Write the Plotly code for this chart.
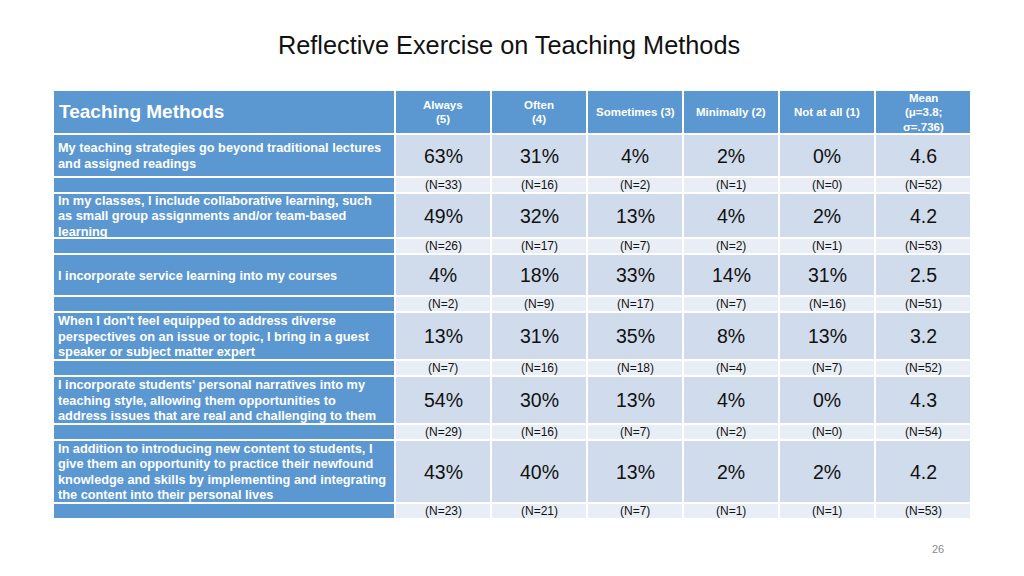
import plotly.graph_objects as go

# ---------------- data ----------------
title_text = "Reflective Exercise on Teaching Methods"
first_header = "Teaching Methods"
col_headers = ["Always<br>(5)", "Often<br>(4)", "Sometimes (3)", "Minimally (2)",
               "Not at all (1)", "Mean<br>(\u03bc=3.8;<br>\u03c3=.736)"]
methods = [
    "My teaching strategies go beyond traditional lectures<br>and assigned readings",
    "In my classes, I include collaborative learning, such<br>as small group assignments and/or team-based<br>learning",
    "I incorporate service learning into my courses",
    "When I don't feel equipped to address diverse<br>perspectives on an issue or topic, I bring in a guest<br>speaker or subject matter expert",
    "I incorporate students' personal narratives into my<br>teaching style, allowing them opportunities to<br>address issues that are real and challenging to them",
    "In addition to introducing new content to students, I<br>give them an opportunity to practice their newfound<br>knowledge and skills by implementing and integrating<br>the content into their personal lives",
]
always_pct = [63, 49, 4, 13, 54, 43]
often_pct = [31, 32, 18, 31, 30, 40]
sometimes_pct = [4, 13, 33, 35, 13, 13]
minimally_pct = [2, 4, 14, 8, 4, 2]
notatall_pct = [0, 2, 31, 13, 0, 2]
mean_score = [4.6, 4.2, 2.5, 3.2, 4.3, 4.2]
always_n = [33, 26, 2, 7, 29, 23]
often_n = [16, 17, 9, 16, 16, 21]
sometimes_n = [2, 7, 17, 18, 7, 7]
minimally_n = [1, 2, 7, 4, 2, 1]
notatall_n = [0, 1, 16, 7, 0, 1]
total_n = [52, 53, 51, 52, 54, 53]
page_number = "26"

# ---------------- layout geometry ----------------
col_edges = [53, 395, 491, 587, 683, 779, 875, 971]
header_edges = (90, 134)
# (pct row top, N row top, N row bottom) for each method
row_edges = [(134, 177, 193), (193, 238, 254), (254, 296, 312),
             (312, 360, 376), (376, 424, 440), (440, 503, 519)]
PAGE_OFFSET = 8  # default body margin of the html page

BLUE = "#5B97D0"
PCT_FILL = "#D0DCEB"
N_FILL = "#E9EEF6"
FONT = "Arial, Liberation Sans, sans-serif"

fig = go.Figure()
shapes = []
annotations = []


def cell(x0, x1, y0, y1, color):
    shapes.append(dict(type="rect", xref="x", yref="y", x0=x0 + 1, x1=x1 - 1,
                       y0=y0 + 1, y1=y1 - 1, fillcolor=color, line=dict(width=0),
                       layer="below"))


def text(x, y, s, size, color="#000000", bold=False, xanchor="center", spacing=None):
    lines = s.split("<br>")
    n = len(lines)
    if spacing is None:
        spacing = size * 1.25
    for i, ln in enumerate(lines):
        t = f"<b>{ln}</b>" if bold else ln
        yy = y + (i - (n - 1) / 2) * spacing
        annotations.append(dict(x=x, y=yy, xref="x", yref="y", text=t, showarrow=False,
                                xanchor=xanchor, yanchor="middle", align="left",
                                font=dict(family=FONT, size=size, color=color)))


# header
hy0, hy1 = header_edges
for c in range(len(col_edges) - 1):
    cell(col_edges[c], col_edges[c + 1], hy0, hy1, BLUE)
text(col_edges[0] + 4, (hy0 + hy1) / 2 - 1, first_header, 19, "white", True, "left")
for c, h in enumerate(col_headers):
    xc = (col_edges[c + 1] + col_edges[c + 2]) / 2
    text(xc, (hy0 + hy1) / 2, h, 11.5, "white", True, spacing=14.5)

pct_cols = [always_pct, often_pct, sometimes_pct, minimally_pct, notatall_pct]
n_cols = [always_n, often_n, sometimes_n, minimally_n, notatall_n, total_n]

for r, (y0, y1, y2) in enumerate(row_edges):
    # first column (blue)
    cell(col_edges[0], col_edges[1], y0, y1, BLUE)
    cell(col_edges[0], col_edges[1], y1, y2, BLUE)
    text(col_edges[0] + 3, (y0 + y1) / 2, methods[r], 12.75, "white", True, "left",
         spacing=15.5)
    for c in range(6):
        xa, xb = col_edges[c + 1], col_edges[c + 2]
        cell(xa, xb, y0, y1, PCT_FILL)
        cell(xa, xb, y1, y2, N_FILL)
        if c < 5:
            val = f"{pct_cols[c][r]}%"
        else:
            val = f"{mean_score[r]:.1f}"
        text((xa + xb) / 2, (y0 + y1) / 2, val, 19.5, "#111111")
        text((xa + xb) / 2, (y1 + y2) / 2, f"(N={n_cols[c][r]})", 12, "#111111")

# title and page number
text(509, 45, title_text, 25.3, "#111111")
text(938, 549, page_number, 11, "#8a8a8a")

# invisible trace to establish the axes
fig.add_trace(go.Scatter(x=[100, 900], y=[100, 500], mode="markers",
                         marker=dict(opacity=0), hoverinfo="skip", showlegend=False))

fig.update_layout(
    width=1024, height=576, margin=dict(l=0, r=0, t=0, b=0),
    paper_bgcolor="white", plot_bgcolor="white",
    xaxis=dict(range=[PAGE_OFFSET, 1024 + PAGE_OFFSET], visible=False, fixedrange=True),
    yaxis=dict(range=[576 + PAGE_OFFSET, PAGE_OFFSET], visible=False, fixedrange=True),
    shapes=shapes, annotations=annotations, showlegend=False,
)

fig.write_html("out.html", config={"displayModeBar": False})
